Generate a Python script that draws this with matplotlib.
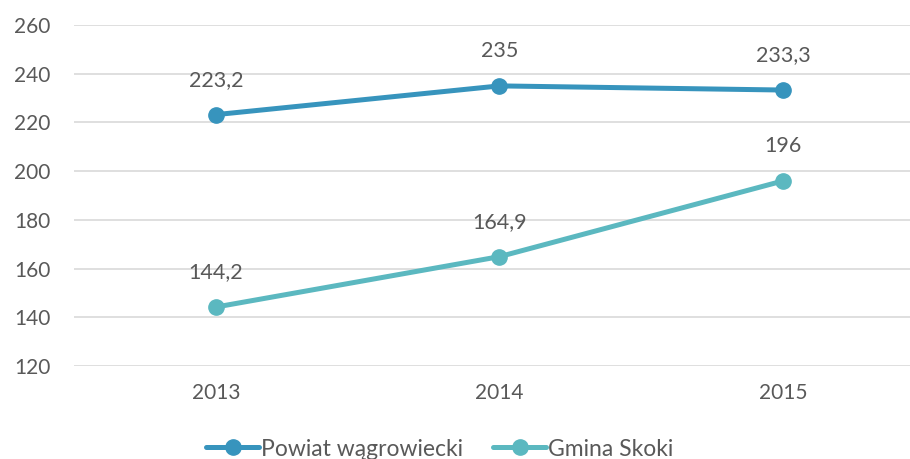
import matplotlib
matplotlib.use("Agg")
import matplotlib.pyplot as plt
from matplotlib.lines import Line2D

years = ["2013", "2014", "2015"]
powiat = [223.2, 235.0, 233.3]
gmina = [144.2, 164.9, 196.0]
labels_powiat = ["223,2", "235", "233,3"]
labels_gmina = ["144,2", "164,9", "196"]
series_names = ["Powiat wągrowiecki", "Gmina Skoki"]
yticks = [120, 140, 160, 180, 200, 220, 240, 260]

c1 = "#3794BD"
c2 = "#5BB8C0"
tc = "#595959"
plt.rcParams['font.family'] = ['Lato', 'DejaVu Sans']

fig = plt.figure(figsize=(9.10, 4.59), dpi=100)
ax = fig.add_axes([74/910, 1-366/459, 851/910, 341/459])
x = list(range(len(years)))
ax.plot(x, powiat, color=c1, lw=3.6, marker='o', ms=11, solid_capstyle='round', zorder=3, clip_on=False)
ax.plot(x, gmina, color=c2, lw=3.6, marker='o', ms=11, solid_capstyle='round', zorder=3, clip_on=False)
for xi, v, t in zip(x, powiat, labels_powiat):
    ax.annotate(t, (xi, v), xytext=(0, 18), textcoords='offset points', ha='center', va='bottom', fontsize=15.5, color=tc)
for xi, v, t in zip(x, gmina, labels_gmina):
    ax.annotate(t, (xi, v), xytext=(0, 18), textcoords='offset points', ha='center', va='bottom', fontsize=15.5, color=tc)

ax.set_xlim(-0.5, 2.5)
ax.set_ylim(120, 260)
ax.set_yticks(yticks)
ax.set_xticks(x)
ax.set_xticklabels(years)
ax.grid(axis='y', color='#D9D9D9', lw=1.2)
ax.set_axisbelow(True)
for s in ax.spines.values():
    s.set_visible(False)
ax.tick_params(length=0, labelsize=15, labelcolor=tc)
ax.tick_params(axis='y', pad=17)
ax.tick_params(axis='x', pad=12)

handles = [Line2D([], [], color=c1, lw=3.6, marker='o', ms=11, solid_capstyle='round'),
           Line2D([], [], color=c2, lw=3.6, marker='o', ms=11, solid_capstyle='round')]
fig.legend(handles, series_names, loc='center', bbox_to_anchor=(440/910, 1-449/459), ncol=2,
           frameon=False, fontsize=16.5, labelcolor=tc, handlelength=2.3, handletextpad=0.1,
           columnspacing=1.3)

fig.savefig("out.png", dpi=100)
